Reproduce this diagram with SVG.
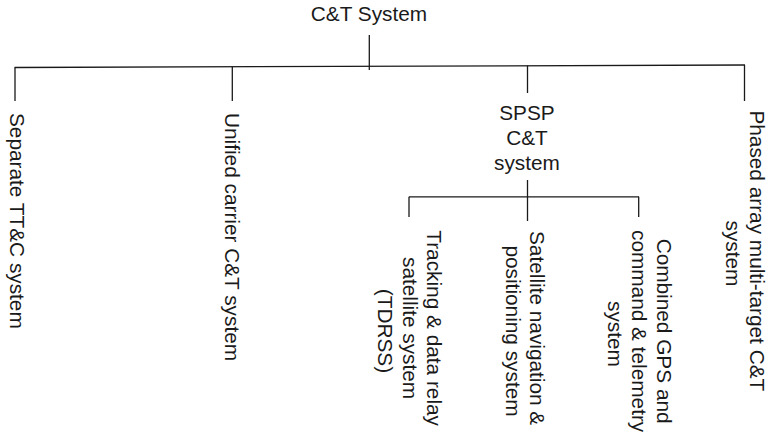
<svg xmlns="http://www.w3.org/2000/svg" width="769" height="445" viewBox="0 0 769 445">
  <style>
    .bg { fill: #ffffff; }
    .wire { stroke: #1a1a1a; stroke-width: 1.3; fill: none; stroke-linecap: butt; }
    .lbl { font-family: "Liberation Sans", Arial, Helvetica, sans-serif; font-size: 20.8px; fill: #1a1a1a; }
    .mid { text-anchor: middle; }
  </style>
  <rect class="bg" x="0" y="0" width="769" height="445"/>

  <!-- tree connectors -->
  <g id="connectors">
    <line class="wire" x1="369.3" y1="35" x2="369.3" y2="70"/>
    <line class="wire" x1="14.5" y1="67.5" x2="745" y2="65"/>
    <line class="wire" x1="15" y1="67.5" x2="15" y2="101"/>
    <line class="wire" x1="232.3" y1="66.8" x2="232.3" y2="101"/>
    <line class="wire" x1="527.5" y1="65.6" x2="527.5" y2="93"/>
    <line class="wire" x1="744.5" y1="65" x2="744.5" y2="101"/>
    <line class="wire" x1="527.5" y1="180" x2="527.5" y2="221"/>
    <line class="wire" x1="409" y1="196.8" x2="639" y2="196.8"/>
    <line class="wire" x1="409" y1="196.8" x2="409" y2="217"/>
    <line class="wire" x1="638.7" y1="196.8" x2="638.7" y2="217"/>
  </g>

  <!-- root -->
  <g id="node-root">
    <text class="lbl mid" x="369" y="21">C&amp;T System</text>
  </g>

  <!-- first level -->
  <g id="node-separate">
    <text class="lbl" transform="translate(9.5,113) rotate(90)">Separate TT&amp;C system</text>
  </g>

  <g id="node-unified">
    <text class="lbl" transform="translate(225,113) rotate(90)">Unified carrier C&amp;T system</text>
  </g>

  <g id="node-spsp">
    <text class="lbl mid" x="527" y="120">SPSP</text>
    <text class="lbl mid" x="527" y="145">C&amp;T</text>
    <text class="lbl mid" x="527" y="170">system</text>
  </g>

  <g id="node-phased">
    <text class="lbl mid" transform="translate(750,253.5) rotate(90)">
      <tspan x="0" y="0">Phased array multi-target C&amp;T</tspan>
      <tspan x="0" y="24.5">system</tspan>
    </text>
  </g>

  <!-- second level under SPSP -->
  <g id="node-tdrss">
    <text class="lbl mid" transform="translate(427,331) rotate(90)">
      <tspan x="0" y="0">Tracking &amp; data relay</tspan>
      <tspan x="0" y="24.5">satellite system</tspan>
      <tspan x="0" y="49">(TDRSS)</tspan>
    </text>
  </g>

  <g id="node-navigation">
    <text class="lbl mid" transform="translate(530,331) rotate(90)">
      <tspan x="0" y="0">Satellite navigation &amp;</tspan>
      <tspan x="0" y="24.5">positioning system</tspan>
    </text>
  </g>

  <g id="node-gps">
    <text class="lbl mid" transform="translate(656.5,334) rotate(90)">
      <tspan x="0" y="0">Combined GPS and</tspan>
      <tspan x="0" y="24.5">command &amp; telemetry</tspan>
      <tspan x="0" y="49">system</tspan>
    </text>
  </g>
</svg>
